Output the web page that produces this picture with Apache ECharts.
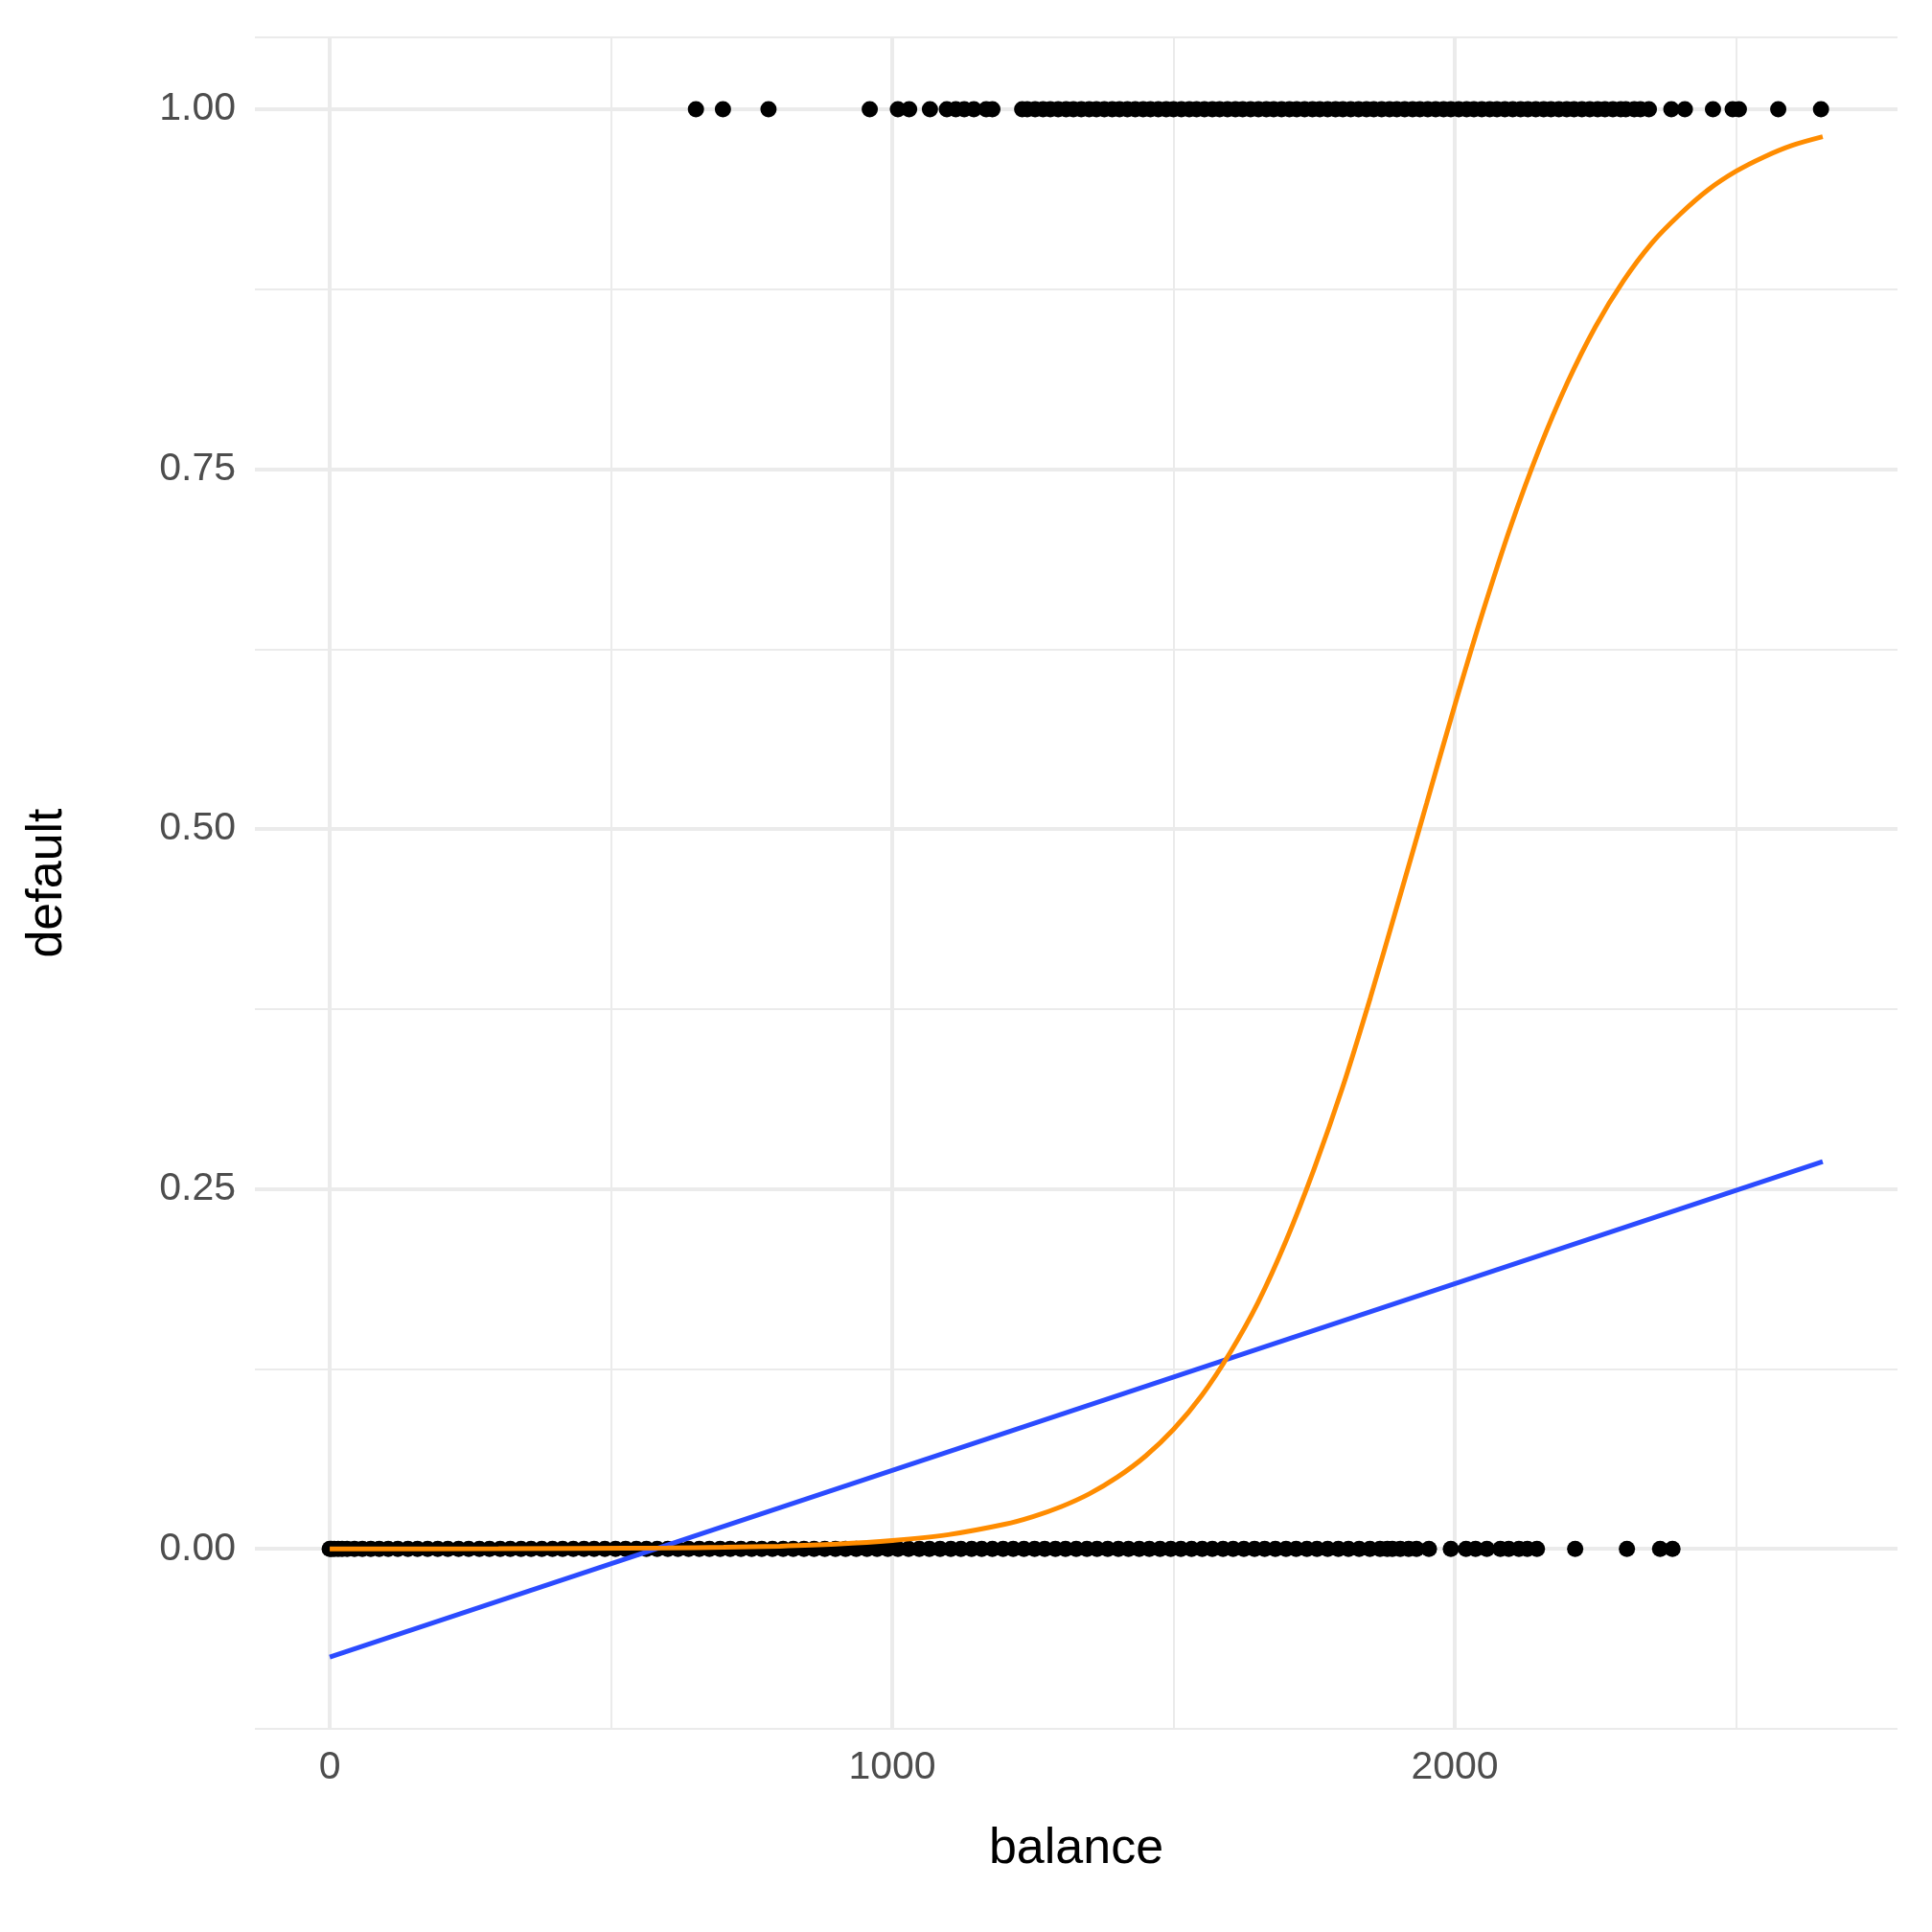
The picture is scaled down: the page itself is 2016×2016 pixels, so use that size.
<!DOCTYPE html>
<html><head><meta charset="utf-8">
<script src="https://cdn.jsdelivr.net/npm/echarts@6/dist/echarts.min.js"></script>
<style>html,body{margin:0;background:#fff}#c{width:2016px;height:2016px}</style>
</head><body><div id="c"></div>
<script>
// balance of customers who defaulted (default = 1)
var balanceYes = [651,699,780,960,1010,1030,1067,1097,1113,1128,1145,1167,1178,1231,1240,1254,1268,1281,1295,1309,1322,1336,1350,1363,1377,1391,1404,1418,1432,1446,1459,1473,1487,1500,1514,1528,1541,1555,1569,1582,1596,1610,1623,1637,1651,1665,1678,1692,1706,1719,1733,1747,1760,1774,1788,1801,1815,1829,1843,1856,1870,1884,1897,1911,1925,1938,1952,1966,1980,1993,2007,2021,2034,2048,2062,2075,2089,2103,2117,2130,2144,2158,2171,2185,2199,2212,2226,2240,2254,2267,2281,2295,2304,2319,2330,2345,2385,2409,2459,2494,2505,2575,2651];
// balance of customers who did not default (default = 0)
var balanceNo = [0,3,8,15,22,31,44,58,73,88,104,121,139,156,174,192,210,229,247,266,284,303,321,340,358,377,396,414,433,452,470,489,508,526,545,563,582,601,619,638,657,675,694,712,731,750,768,787,806,824,843,861,880,899,917,936,955,973,992,1010,1029,1048,1066,1085,1104,1122,1141,1159,1178,1197,1215,1234,1253,1271,1290,1308,1327,1346,1364,1383,1402,1420,1439,1457,1476,1495,1513,1532,1551,1569,1588,1606,1625,1644,1662,1681,1700,1718,1737,1755,1774,1793,1811,1830,1849,1867,1880,1889,1903,1918,1932,1954,1993,2020,2037,2057,2081,2096,2114,2129,2146,2214,2306,2365,2387];
// linear fit (read at ends)
var linearFit = [[0,-0.0752],[2654,0.269]];
// logistic fit
var logitX = [0,300,600,700,800,900,1000,1100,1200,1250,1300,1350,1400,1450,1500,1550,1600,1650,1700,1750,1800,1850,1900,1950,2000,2050,2100,2150,2200,2250,2300,2350,2400,2450,2500,2550,2600,2654];
var logitY = [0.0000,0.0001,0.0006,0.0011,0.0019,0.0033,0.0058,0.0099,0.0171,0.0224,0.0293,0.0382,0.0498,0.0644,0.083,0.1065,0.136,0.171,0.214,0.264,0.320,0.383,0.450,0.518,0.586,0.651,0.711,0.764,0.810,0.849,0.881,0.907,0.927,0.944,0.957,0.967,0.975,0.981];
var yMajor = [0,0.25,0.5,0.75,1];
var xMinorGrid = [500,1500,2500];
var xMajorGrid = [0,1000,2000];

var logitData = logitX.map(function(x,i){return [x,logitY[i]];});
var chart = echarts.init(document.getElementById('c'));
var font = 'Liberation Sans';
function vline(v,w){return {xAxis:v,lineStyle:{color:'#ebebeb',width:w,type:'solid'}};}
function hline(v,w){return {yAxis:v,lineStyle:{color:'#ebebeb',width:w,type:'solid'}};}
var gridLines = [];
xMinorGrid.forEach(function(v){gridLines.push(vline(v,2));});
xMajorGrid.forEach(function(v){gridLines.push(vline(v,4));});
yMajor.forEach(function(v){gridLines.push(hline(v,4));});

chart.setOption({
  animation:false,
  grid:{left:266,right:36,top:39,bottom:212,containLabel:false},
  xAxis:{type:'value',min:-133,max:2787,
    name:'balance',nameLocation:'middle',nameGap:100,
    nameTextStyle:{fontFamily:font,fontSize:52,color:'#000'},
    axisLine:{show:false},axisTick:{show:false},splitLine:{show:false},
    axisLabel:{customValues:[0,1000,2000],fontFamily:font,fontSize:41,color:'#4d4d4d',margin:20,
      formatter:function(v){return String(v);}}},
  yAxis:{type:'value',min:-0.125,max:1.05,interval:0.125,
    name:'default',nameLocation:'middle',nameGap:190,
    nameTextStyle:{fontFamily:font,fontSize:52,color:'#000'},
    axisLine:{show:false},axisTick:{show:false},
    splitLine:{show:true,lineStyle:{color:'#ebebeb',width:2}},
    axisLabel:{fontFamily:font,fontSize:41,color:'#4d4d4d',margin:20,
      formatter:function(v){var r=Math.round(v*1000)/1000; return (r>=0 && Math.abs(r*4-Math.round(r*4))<1e-6)?r.toFixed(2):'';}}},
  series:[
    {type:'line',data:[],zlevel:0,markLine:{silent:true,symbol:'none',label:{show:false},emphasis:{disabled:true},data:gridLines}},
    {type:'scatter',zlevel:1,data:balanceNo.map(function(x){return [x,0];}),symbolSize:17,itemStyle:{color:'#000',opacity:1},z:2},
    {type:'scatter',zlevel:1,data:balanceYes.map(function(x){return [x,1];}),symbolSize:17,itemStyle:{color:'#000',opacity:1},z:2},
    {type:'line',zlevel:1,data:linearFit,showSymbol:false,lineStyle:{color:'#2b4bff',width:5},z:3},
    {type:'line',zlevel:1,data:logitData,smooth:0.3,showSymbol:false,lineStyle:{color:'#ff8c00',width:5},z:4}
  ]
});
</script></body></html>
